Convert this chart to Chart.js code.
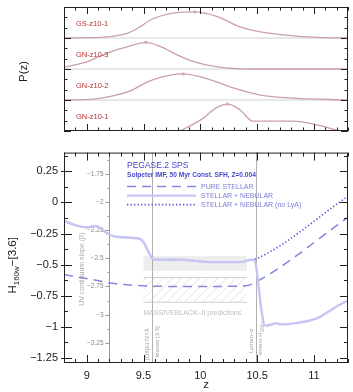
<!DOCTYPE html>
<html>
<head>
<meta charset="utf-8">
<script src="https://cdn.jsdelivr.net/npm/chart.js@4.4.1/dist/chart.umd.min.js"></script>
<style>
  html, body { margin: 0; padding: 0; background: #fff; }
  body { width: 353px; height: 392px; position: relative; overflow: hidden; }
  #pzWrap { position: absolute; left: 0; top: 0; width: 353px; height: 140px; }
  #colWrap { position: absolute; left: 0; top: 140px; width: 353px; height: 252px; }
</style>
</head>
<body>
<div id="pzWrap"><canvas id="pzChart"></canvas></div>
<div id="colWrap"><canvas id="colorChart"></canvas></div>
<script>
// ---- P(z) panels, top to bottom ----
const pzNames = ['GS-z10-1', 'GN-z10-3', 'GN-z10-2', 'GN-z10-1'];
const zGS1 = [8.80, 9.12, 9.355, 9.47, 9.56, 9.76, 9.95, 10.15, 10.35, 10.53, 10.73, 11.03, 11.30];
const pGS1 = [0.00, 0.02, 0.15, 0.36, 0.58, 0.80, 0.84, 0.69, 0.36, 0.20, 0.10, 0.02, 0.00];
const zGN3 = [8.80, 9.00, 9.12, 9.23, 9.355, 9.52, 9.65, 9.80, 9.94, 10.15, 10.44, 11.30];
const pGN3 = [0.06, 0.23, 0.42, 0.58, 0.71, 0.86, 0.72, 0.45, 0.24, 0.07, 0.00, 0.00];
const zGN2 = [8.80, 9.06, 9.20, 9.36, 9.58, 9.85, 10.09, 10.29, 10.53, 10.82, 11.30];
const pGN2 = [0.00, 0.03, 0.11, 0.26, 0.65, 0.84, 0.65, 0.39, 0.16, 0.06, 0.00];
const zGN1 = [9.82, 10.00, 10.15, 10.24, 10.35, 10.46, 10.82, 10.99, 11.10, 11.20, 11.30];
const pGN1 = [0.00, 0.35, 0.77, 0.87, 0.68, 0.32, 0.32, 0.23, 0.13, 0.03, 0.00];

// ---- H160w - [3.6] colour vs z ----
const zTicks = [9, 9.5, 10, 10.5, 11];
const colorTicks = [-1.25, -1, -0.75, -0.5, -0.25, 0, 0.25];
const betaTicks = [-3.25, -3, -2.75, -2.5, -2.25, -2, -1.75];

const zPure = [8.80, 9.05, 9.22, 9.50, 9.80, 10.10, 10.40, 10.49, 11.30];
const colPure = [-0.58, -0.62, -0.65, -0.67, -0.675, -0.675, -0.67, -0.64, -0.12];

const zNoLya = [8.80, 8.93, 9.00, 9.08, 9.14, 9.20, 9.30, 9.46, 9.50, 9.54, 9.57, 9.60, 9.80, 10.11, 10.35, 10.45, 10.50, 11.30];
const colNoLya = [-0.15, -0.19, -0.20, -0.19, -0.22, -0.26, -0.28, -0.29, -0.32, -0.39, -0.44, -0.46, -0.46, -0.48, -0.48, -0.46, -0.45, 0.05];

const zNeb = [8.80, 8.93, 9.00, 9.08, 9.14, 9.20, 9.30, 9.46, 9.50, 9.54, 9.57, 9.60, 9.80, 10.11, 10.35, 10.45, 10.48, 10.51, 10.54, 10.57, 10.63, 10.67, 10.71, 10.84, 11.03, 11.14, 11.23, 11.30];
const colNeb = [-0.15, -0.19, -0.20, -0.19, -0.22, -0.26, -0.28, -0.29, -0.32, -0.39, -0.44, -0.46, -0.46, -0.48, -0.48, -0.46, -0.47, -0.65, -0.88, -0.99, -0.98, -0.97, -0.98, -0.97, -0.93, -0.87, -0.82, -0.79];

// MassiveBlack-II beta predictions
const mbZ = [9.5, 10.41];
const mbBand = [-2.61, -2.48];
const mbHatch = [-2.89, -2.67];
const markZ = [9.575, 10.49];   // [OII] leaves / Lyman-a enters
const betaAxisZ = 9.2;

const FONT = "'Liberation Sans', Arial, sans-serif";
Chart.defaults.font.family = FONT;
Chart.defaults.color = '#222';

function pts(xs, ys) { return xs.map((v, i) => ({ x: v, y: ys[i] })); }

function seg(ctx, x1, y1, x2, y2) {
    ctx.beginPath(); ctx.moveTo(x1, y1); ctx.lineTo(x2, y2); ctx.stroke();
}

// rotated (bottom-to-top) text, parts = [text, size, dy]
function vtext(ctx, x, y, parts, color) {
    ctx.save();
    ctx.translate(x, y);
    ctx.rotate(-Math.PI / 2);
    ctx.fillStyle = color;
    ctx.textAlign = 'left';
    ctx.textBaseline = 'alphabetic';
    let cx = 0;
    parts.forEach(([t, size, dy]) => {
        ctx.font = size + 'px ' + FONT;
        ctx.fillText(t, cx, dy || 0);
        cx += ctx.measureText(t).width;
    });
    ctx.restore();
}

function zTickMarks(ctx, a, x, maj, mn) {
    for (let i = 88; i <= 113; i++) {
        const px = Math.round(x.getPixelForValue(i / 10)) + 0.5;
        const len = (i % 5 === 0) ? maj : mn;
        seg(ctx, px, a.bottom, px, a.bottom - len);
        seg(ctx, px, a.top, px, a.top + len);
    }
}

// an axis that is laid out but draws nothing, with a fixed size
function blankAxis(extra, size) {
    return Object.assign({
        grid: { display: false, drawTicks: false },
        border: { display: false },
        ticks: { display: false },
        afterFit: s => { if (s.isHorizontal()) s.height = size; else s.width = size; }
    }, extra);
}

// ---------- top chart ----------
const pzColor = '#c9a0a6';
const pzSets = [[zGS1, pGS1], [zGN3, pGN3], [zGN2, pGN2], [zGN1, pGN1]].map(([zs, ps], i) => {
    const peak = Math.max(...ps);
    return {
        data: pts(zs, ps),
        yAxisID: 'y' + i,
        borderColor: pzColor,
        borderWidth: 1.3,
        cubicInterpolationMode: 'monotone',
        pointStyle: 'rect',
        pointRadius: c => (c.raw && c.raw.y === peak) ? 2 : 0,
        pointBackgroundColor: '#d6a9ae',
        pointBorderWidth: 0
    };
});

const pzFrame = {
    id: 'pzFrame',
    beforeDatasetsDraw(chart) {
        const { ctx, chartArea: a, scales } = chart;
        ctx.save();
        ctx.strokeStyle = '#e8e8e8';
        ctx.lineWidth = 2;
        ['y0', 'y1', 'y2'].forEach(id => {
            const py = scales[id].getPixelForValue(0);
            seg(ctx, a.left, py, a.right, py);
        });
        ctx.restore();
    },
    afterDraw(chart) {
        const { ctx, chartArea: a, scales } = chart;
        ctx.save();
        ctx.fillStyle = '#b83232';
        ctx.font = '7.5px ' + FONT;
        ctx.textBaseline = 'middle';
        pzNames.forEach((n, i) => {
            ctx.fillText(n, a.left + 12, scales['y' + i].getPixelForValue(0.45));
        });
        ctx.strokeStyle = '#222';
        ctx.lineWidth = 1;
        ctx.strokeRect(a.left + 0.5, a.top + 0.5, a.width - 1, a.height - 1);
        zTickMarks(ctx, a, scales.x, 7, 3.5);
        for (let k = 0; k <= 12; k++) {
            const py = Math.round(scales.y3.getPixelForValue(k / 3)) + 0.5;
            const len = (k % 3 === 0) ? 7 : 3.5;
            seg(ctx, a.left, py, a.left + len, py);
            seg(ctx, a.right, py, a.right - len, py);
        }
        ctx.restore();
        vtext(ctx, 27, 82, [['P(z)', 11.5]], '#222');
    }
};

new Chart(document.getElementById('pzChart'), {
    type: 'line',
    data: { datasets: pzSets },
    options: {
        responsive: true,
        maintainAspectRatio: false,
        animation: false,
        events: [],
        layout: { padding: { left: 0, right: 5, top: 7, bottom: 0 } },
        plugins: { legend: { display: false }, tooltip: { enabled: false } },
        scales: {
            x: blankAxis({ type: 'linear', min: 8.8, max: 11.3 }, 9),
            y0: { axis: 'y', display: false, min: -3, max: 1 },
            y1: { axis: 'y', display: false, min: -2, max: 2 },
            y2: { axis: 'y', display: false, min: -1, max: 3 },
            y3: blankAxis({ axis: 'y', position: 'left', min: 0, max: 4 }, 64)
        }
    },
    plugins: [pzFrame]
});

// ---------- bottom chart ----------
const legendText = '#7b7bdc';
const headText = '#4848cc';

const colorFrame = {
    id: 'colorFrame',
    beforeDatasetsDraw(chart) {
        const { ctx, chartArea: a, scales: { x, beta } } = chart;
        ctx.save();
        const x0 = x.getPixelForValue(mbZ[0]), x1 = x.getPixelForValue(mbZ[1]);
        // gray band
        ctx.fillStyle = '#ededed';
        const b0 = beta.getPixelForValue(mbBand[1]), b1 = beta.getPixelForValue(mbBand[0]);
        ctx.fillRect(x0, b0, x1 - x0, b1 - b0);
        // hatched region
        const h0 = beta.getPixelForValue(mbHatch[1]), h1 = beta.getPixelForValue(mbHatch[0]);
        ctx.save();
        ctx.beginPath();
        ctx.rect(x0, h0, x1 - x0, h1 - h0);
        ctx.clip();
        ctx.strokeStyle = '#dcdcdc';
        ctx.lineWidth = 0.8;
        for (let s = x0 - 40; s < x1 + 40; s += 9) {
            seg(ctx, s, h1, s + (h1 - h0), h0);
        }
        ctx.restore();
        ctx.strokeStyle = '#cfcfcf';
        ctx.lineWidth = 1;
        seg(ctx, x0, h0, x1, h0);
        seg(ctx, x0, h1, x1, h1);
        ctx.font = '7px ' + FONT;
        ctx.fillStyle = '#bdbdbd';
        ctx.textBaseline = 'middle';
        ctx.fillText('MASSIVEBLACK\u2013II predictions', x0, h1 + 11);
        // vertical marker lines
        ctx.strokeStyle = '#b0b0b0';
        markZ.forEach(z => {
            const px = Math.round(x.getPixelForValue(z)) + 0.5;
            seg(ctx, px, a.top, px, a.bottom);
        });
        const m0 = x.getPixelForValue(markZ[0]), m1 = x.getPixelForValue(markZ[1]);
        vtext(ctx, m0 - 3, a.bottom - 3, [['[OII]\u03bb3727\u00c5', 6]], '#a0a0a0');
        vtext(ctx, m0 + 6.5, a.bottom - 6, [['leaves [3.6]', 6]], '#a0a0a0');
        vtext(ctx, m1 - 3, a.bottom - 10, [['Lyman\u2013\u03b1', 6]], '#a0a0a0');
        vtext(ctx, m1 + 6.5, a.bottom - 8, [['enters H', 6], ['160w', 4.5, 1.5]], '#a0a0a0');
        // beta axis
        const bx = Math.round(x.getPixelForValue(betaAxisZ)) + 0.5;
        ctx.strokeStyle = '#9a9a9a';
        seg(ctx, bx, a.top, bx, a.bottom);
        ctx.fillStyle = '#8a8a8a';
        ctx.font = '6.5px ' + FONT;
        ctx.textAlign = 'right';
        betaTicks.forEach(v => {
            const py = Math.round(beta.getPixelForValue(v)) + 0.5;
            seg(ctx, bx - 4, py, bx, py);
            ctx.fillText(String(v).replace('-', '\u2212'), bx - 6, py);
            const pm = Math.round(beta.getPixelForValue(v + 0.125)) + 0.5;
            if (pm > a.top + 2) seg(ctx, bx - 2, pm, bx, pm);
        });
        ctx.restore();
        vtext(ctx, bx - 26, (a.top + a.bottom) / 2 + 48, [['UV continuum slope (\u03b2)', 7]], '#aaaaaa');
    },
    afterDraw(chart) {
        const { ctx, chartArea: a, scales: { x, y } } = chart;
        ctx.save();
        ctx.strokeStyle = '#222';
        ctx.lineWidth = 1;
        ctx.strokeRect(a.left + 0.5, a.top + 0.5, a.width - 1, a.height - 1);
        zTickMarks(ctx, a, x, 8, 4);
        for (let k = -10; k <= 3; k++) {
            const py = Math.round(y.getPixelForValue(k * 0.125)) + 0.5;
            const major = k % 2 === 0;
            const len = major ? 8 : 4;
            seg(ctx, a.left - (major ? 3 : 0), py, a.left + len, py);
            seg(ctx, a.right, py, a.right - len, py);
        }
        // legend
        const lx = a.left + 63;
        ctx.fillStyle = headText;
        ctx.textBaseline = 'middle';
        ctx.font = '8.5px ' + FONT;
        ctx.fillText('PEGASE.2 SPS', lx, a.top + 13);
        ctx.font = 'bold 6.6px ' + FONT;
        ctx.fillText('Solpeter IMF, 50 Myr Const. SFH, Z=0.004', lx, a.top + 22.5);
        const rows = [[1, 34], [0, 43], [2, 52]];
        ctx.font = '7px ' + FONT;
        rows.forEach(([di, dy]) => {
            const ds = chart.data.datasets[di];
            const py = a.top + dy;
            ctx.save();
            ctx.strokeStyle = ds.borderColor;
            ctx.lineWidth = ds.borderWidth;
            ctx.setLineDash(ds.borderDash || []);
            seg(ctx, lx, py, lx + 69, py);
            ctx.restore();
            ctx.fillStyle = legendText;
            ctx.fillText(ds.label, lx + 74, py);
        });
        ctx.restore();
        // left axis title, canvas starts 140px down the page
        vtext(ctx, 16, a.top + 141, [['H', 11.5], ['160w', 8, 2.5], ['\u2212[3.6]', 11.5]], '#222');
    }
};

new Chart(document.getElementById('colorChart'), {
    type: 'line',
    data: {
        datasets: [
            {
                label: 'STELLAR + NEBULAR',
                data: pts(zNeb, colNeb),
                borderColor: '#c5c5f3',
                borderWidth: 2.4,
                cubicInterpolationMode: 'monotone',
                pointRadius: 0
            },
            {
                label: 'PURE STELLAR',
                data: pts(zPure, colPure),
                borderColor: '#8585e2',
                borderWidth: 1.5,
                borderDash: [9, 6],
                cubicInterpolationMode: 'monotone',
                pointRadius: 0
            },
            {
                label: 'STELLAR + NEBULAR (no LyA)',
                data: pts(zNoLya, colNoLya),
                borderColor: '#5656d6',
                borderWidth: 1.6,
                borderDash: [1.3, 2.2],
                cubicInterpolationMode: 'monotone',
                pointRadius: 0
            }
        ]
    },
    options: {
        responsive: true,
        maintainAspectRatio: false,
        animation: false,
        events: [],
        layout: { padding: { left: 0, right: 5, top: 10, bottom: 0 } },
        plugins: { legend: { display: false }, tooltip: { enabled: false } },
        scales: {
            x: {
                type: 'linear',
                min: 8.8,
                max: 11.3,
                afterBuildTicks: s => { s.ticks = zTicks.map(v => ({ value: v })); },
                afterFit: s => { s.height = 29; },
                grid: { display: false, drawTicks: false },
                border: { display: false },
                ticks: { font: { size: 11 }, color: '#222', padding: 6, maxRotation: 0, callback: v => String(v) },
                title: { display: true, text: 'z', font: { size: 11.5 }, color: '#222', padding: { top: 0, bottom: 0 } }
            },
            y: {
                min: -1.29,
                max: 0.4,
                afterBuildTicks: s => { s.ticks = colorTicks.map(v => ({ value: v })); },
                afterFit: s => { s.width = 64; },
                grid: { display: false, drawTicks: false },
                border: { display: false },
                ticks: {
                    font: { size: 11 },
                    color: '#222',
                    padding: 6,
                    callback: v => String(v).replace('-', '\u2212')
                }
            },
            beta: { axis: 'y', display: false, min: -3.43, max: -1.56 }
        }
    },
    plugins: [colorFrame]
});
</script>
</body>
</html>
